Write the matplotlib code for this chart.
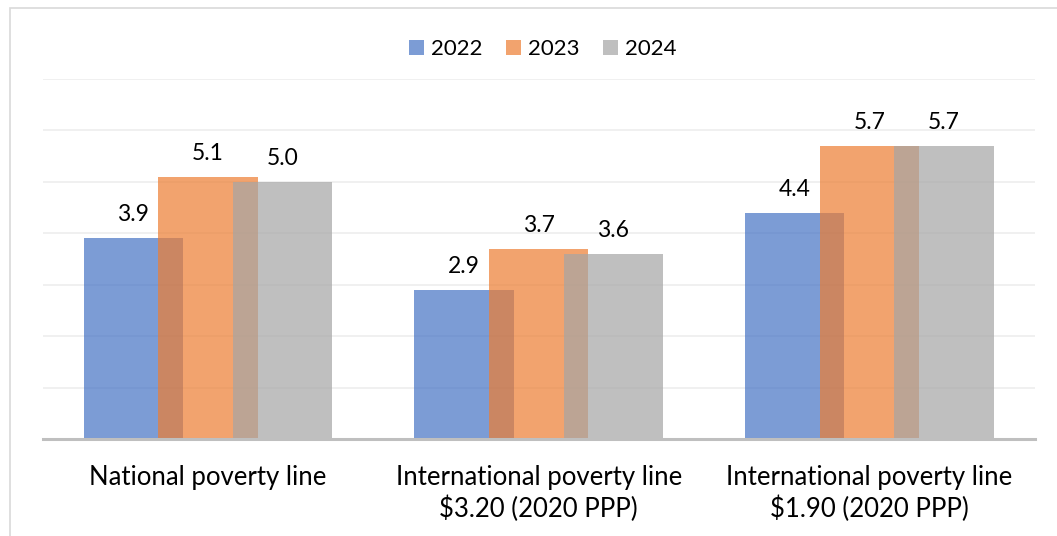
import matplotlib
matplotlib.use("Agg")
import matplotlib.pyplot as plt
from matplotlib.patches import Rectangle, Patch
import numpy as np

plt.rcParams['font.family'] = ['Lato', 'DejaVu Sans']

categories = ["National poverty line",
              "International poverty line\n$3.20 (2020 PPP)",
              "International poverty line\n$1.90 (2020 PPP)"]
series_names = ["2022", "2023", "2024"]
values_2022 = [3.9, 2.9, 4.4]
values_2023 = [5.1, 3.7, 5.7]
values_2024 = [5.0, 3.6, 5.7]
series_values = [values_2022, values_2023, values_2024]
colors = ["#4472C4", "#ED7D31", "#A5A5A5"]

W, H = 1057, 536
fig = plt.figure(figsize=(W / 100, H / 100), dpi=100)

# outer chart frame (left & top visible)
fig.patches.append(Rectangle((10 / W, -0.1), 1.2, 1.1 - 8 / H, transform=fig.transFigure,
                             fill=False, edgecolor="#D9D9D9", linewidth=1.2, zorder=0))

ax = fig.add_axes([42.7 / W, 97 / H, (1034.7 - 42.7) / W, (457 - 97) / H])
x = np.arange(len(categories))
width = 0.30
offsets = [-0.226, 0.0, 0.226]
for vals, off, col, name in zip(series_values, offsets, colors, series_names):
    bars = ax.bar(x + off, vals, width=width, color=col, alpha=0.7, label=name, zorder=2, linewidth=0)
    for b, v in zip(bars, vals):
        ax.annotate(f"{v:.1f}", (b.get_x() + b.get_width() / 2, v), xytext=(0, 9.5),
                    textcoords="offset points", ha="center", va="bottom", fontsize=16.5, color="#000000")

ax.set_xlim(-0.5, 2.5)
ax.set_ylim(0, 7)
ax.set_yticks(np.arange(0, 8, 1))
ax.yaxis.grid(True, color="#EEEEEE", linewidth=1.2, zorder=0)
ax.set_axisbelow(True)
ax.tick_params(axis="y", left=False, labelleft=False)
ax.tick_params(axis="x", length=0, pad=19, labelsize=18.5)
ax.set_xticks(x)
ax.set_xticklabels(categories, linespacing=1.25, color="#000000")
for s in ["top", "right", "left"]:
    ax.spines[s].set_visible(False)
ax.spines["bottom"].set_color("#BFBFBF")
ax.spines["bottom"].set_linewidth(2.2)
ax.spines["bottom"].set_zorder(3)
ax.patch.set_alpha(0)

handles = [Patch(facecolor=c, alpha=0.7, linewidth=0) for c in colors]
fig.legend(handles, series_names, loc="center", bbox_to_anchor=(543 / W, 1 - 49 / H), ncol=3,
           frameon=False, fontsize=16, handlelength=0.68, handleheight=0.68, handletextpad=0.32,
           columnspacing=1.05)

fig.savefig("out.png", dpi=100)
